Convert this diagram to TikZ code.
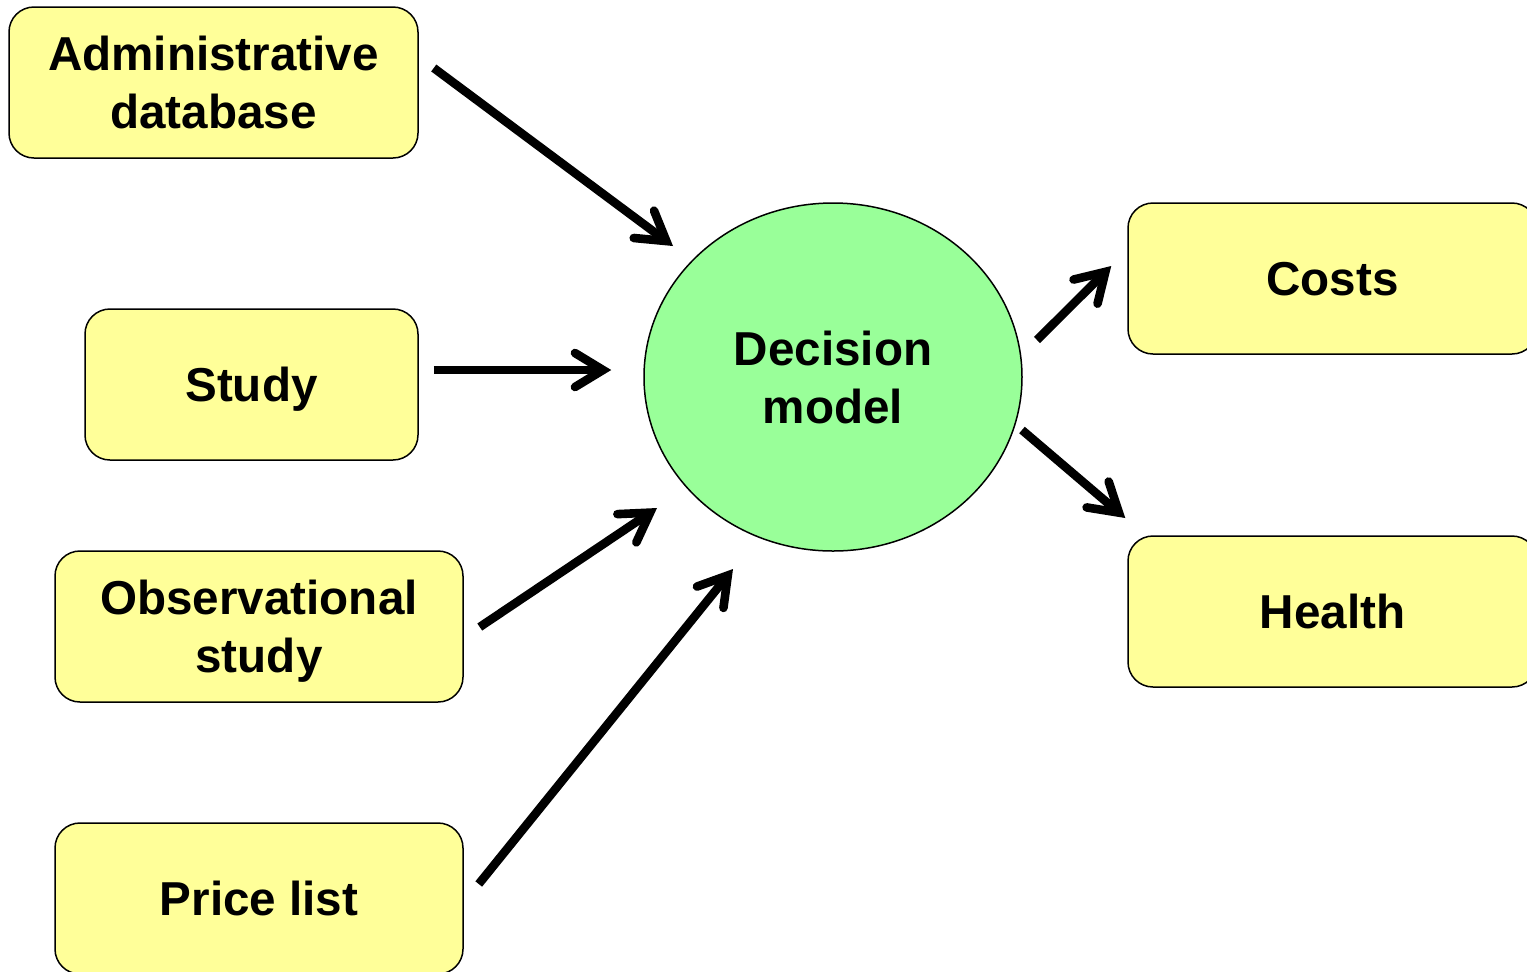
\documentclass[tikz,border=0pt]{standalone}
\usepackage{fontspec}
\setmainfont{Liberation Sans}
\usetikzlibrary{arrows.meta,shapes.geometric}
\definecolor{boxyellow}{HTML}{FFFF99}
\definecolor{modelgreen}{HTML}{99FF99}
\begin{document}
\begin{tikzpicture}[x=0.5pt,y=-0.5pt,
  labeltext/.style={inner sep=0pt, align=center, text depth=-2.5pt,
    font=\fontsize{23.8pt}{29pt}\selectfont\bfseries},
  srcbox/.style={labeltext, draw=black, line width=0.75pt, fill=boxyellow,
    rounded corners=12.5pt, minimum height=75.5pt},
  modelnode/.style={labeltext, ellipse, draw=black, line width=0.75pt, fill=modelgreen,
    minimum width=189pt, minimum height=174pt},
  flow/.style={line width=4.3pt, line cap=butt, line join=miter,
    -{Straight Barb[length=14pt, width=17pt, line cap=round, line join=miter]}}]
\clip (0,0) rectangle (1527,971);
\fill[white] (0,0) rectangle (1527,971);

% sources
\node[srcbox, minimum width=204.5pt] (adm) at (213.5,82.5) {Administrative\\database};
\node[srcbox, minimum width=166.5pt] (stu) at (251.5,384.5) {Study};
\node[srcbox, minimum width=204pt] (obs) at (259,626.5) {Observational\\study};
\node[srcbox, minimum width=204pt] (pri) at (259,898.5) {Price list};

% model
\node[modelnode] (dm) at (833,377) {Decision\\model};

% outcomes
\node[srcbox, minimum width=204.5pt] (cst) at (1332.5,278.5) {Costs};
\node[srcbox, minimum width=204.5pt] (hlt) at (1332.5,611.5) {Health};

% inputs to the model
\draw[flow] ([shift={(15,-14.5)}]adm.east) -- ([shift={(-160,-131)}]dm.center);
\draw[flow] ([shift={(15,-14.5)}]stu.east) -- ([shift={(-32,-7)}]dm.west);
\draw[flow] ([shift={(16,0.5)}]obs.east) -- ([shift={(-176,131)}]dm.center);
\draw[flow] ([shift={(15,-14.5)}]pri.east) -- ([shift={(-100,192)}]dm.center);

% model outputs
\draw[flow] ([shift={(204,-37)}]dm.center) -- ([shift={(-16,-12.5)}]cst.west);
\draw[flow] ([shift={(189,53)}]dm.center) -- ([shift={(-2,-93.5)}]hlt.west);
\end{tikzpicture}
\end{document}
